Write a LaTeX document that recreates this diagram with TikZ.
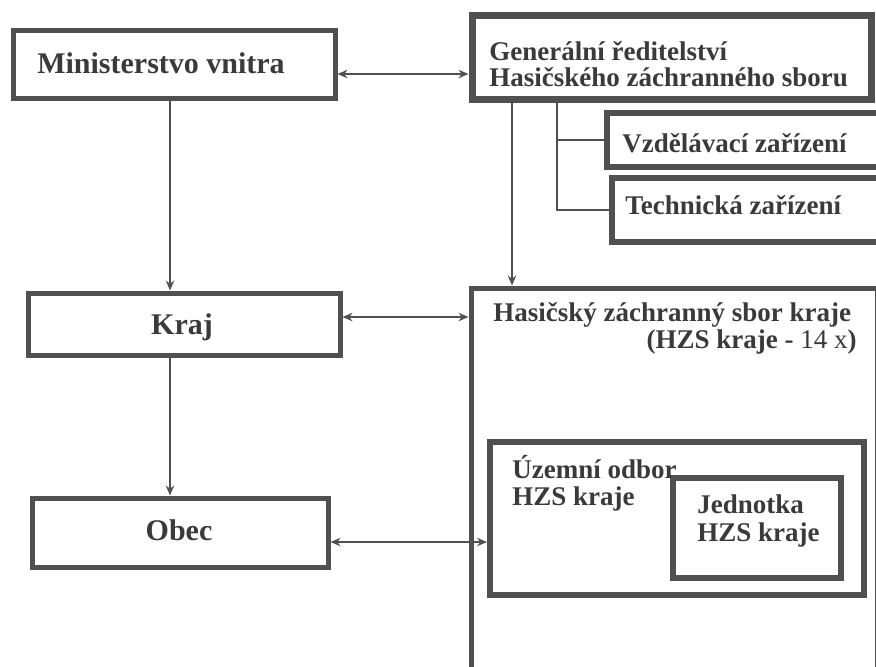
\documentclass[tikz,border=0pt]{standalone}
\usepackage{fontspec}
\setmainfont{Liberation Serif}
\usepackage{tikz}
\usepackage{xcolor}
\usetikzlibrary{arrows.meta}

\definecolor{linec}{HTML}{505050}
\definecolor{txtc}{HTML}{3A3A3A}

\begin{document}
\begin{tikzpicture}[x=0.5pt,y=-0.5pt,
  box/.style={draw=linec, line width=2.5pt, rectangle, inner sep=0pt},
  conn/.style={draw=linec, line width=1.2pt, >={Stealth[length=5pt,width=4.2pt]}},
  big/.style={font=\bfseries\fontsize{15}{15}\selectfont, text=txtc, inner sep=0pt},
  lbl/.style={font=\bfseries\fontsize{13.5}{13.5}\selectfont, text=txtc, inner sep=0pt}]
  \useasboundingbox (0,0) rectangle (876,666);
  \clip (0,0) rectangle (876,666);
  \fill[white] (0,0) rectangle (876,666);

  % boxes
  \node[box, minimum width=161pt, minimum height=34pt] (min) at (174,64) {};
  \node[box, line width=3.5pt, minimum width=199.5pt, minimum height=42pt] (gr) at (671.5,57) {};
  \node[box, line width=3pt, minimum width=146.5pt, minimum height=27pt] (vz) at (753.5,140) {};
  \node[box, line width=3pt, minimum width=144pt, minimum height=32pt] (tech) at (756,210) {};
  \node[box, minimum width=156pt, minimum height=31pt] (kraj) at (184,324) {};
  \node[box, minimum width=148pt, minimum height=34.5pt] (obec) at (180,532.5) {};
  \node[box, minimum width=203pt, minimum height=216pt] (hzs) at (674,504) {};
  \node[box, line width=3pt, minimum width=187pt, minimum height=76.5pt] (uz) at (677,518.5) {};
  \node[box, line width=3pt, minimum width=84pt, minimum height=50pt] (jed) at (757,528) {};

  % texts
  \node[big] (tmin) at (161,63) {Ministerstvo vnitra};
  \node[lbl, anchor=west, align=left, font=\bfseries\fontsize{13.5}{13}\selectfont] (tgr) at (489,64)
    {Generální ředitelství\\Hasičského záchranného sboru};
  \node[lbl, anchor=west] (tvz) at (622,143) {Vzdělávací zařízení};
  \node[lbl, anchor=west] (ttech) at (625,205) {Technická zařízení};
  \node[big] (tkraj) at (182,327) {Kraj};
  \node[big] (tobec) at (179,530) {Obec};
  \node[lbl, anchor=west] (thzs) at (493,315) {Hasičský záchranný sbor kraje};
  \node[lbl, anchor=east] (thzs2) at (857,342) {(HZS kraje - \textmd{14 x})};
  \node[lbl, anchor=west, align=left] (tuz) at (512,483.5) {Územní odbor\\HZS kraje};
  \node[lbl, anchor=west, align=left, font=\bfseries\fontsize{13.5}{14}\selectfont] (tjed) at (697,521)
    {Jednotka\\HZS kraje};

  % connectors
  \coordinate (kx) at (170,0);
  \coordinate (hx) at (512,0);
  \coordinate (bx) at (557,0);
  \coordinate (ay) at (0,74);
  \coordinate (ky) at (0,317);
  \coordinate (oy) at (0,542);

  \draw[conn,<->] (min.east |- ay) -- (gr.west |- ay);
  \draw[conn,->] (min.south -| kx) -- (kraj.north -| kx);
  \draw[conn,->] (kraj.south -| kx) -- (obec.north -| kx);
  \draw[conn,->] (gr.south -| hx) -- (hzs.north -| hx);
  \draw[conn] (gr.south -| bx) |- (tech.west);
  \draw[conn] (bx |- vz.west) -- (vz.west);
  \draw[conn,<->] (kraj.east |- ky) -- (hzs.west |- ky);
  \draw[conn,<->] (obec.east |- oy) -- (uz.west |- oy);
\end{tikzpicture}
\end{document}
